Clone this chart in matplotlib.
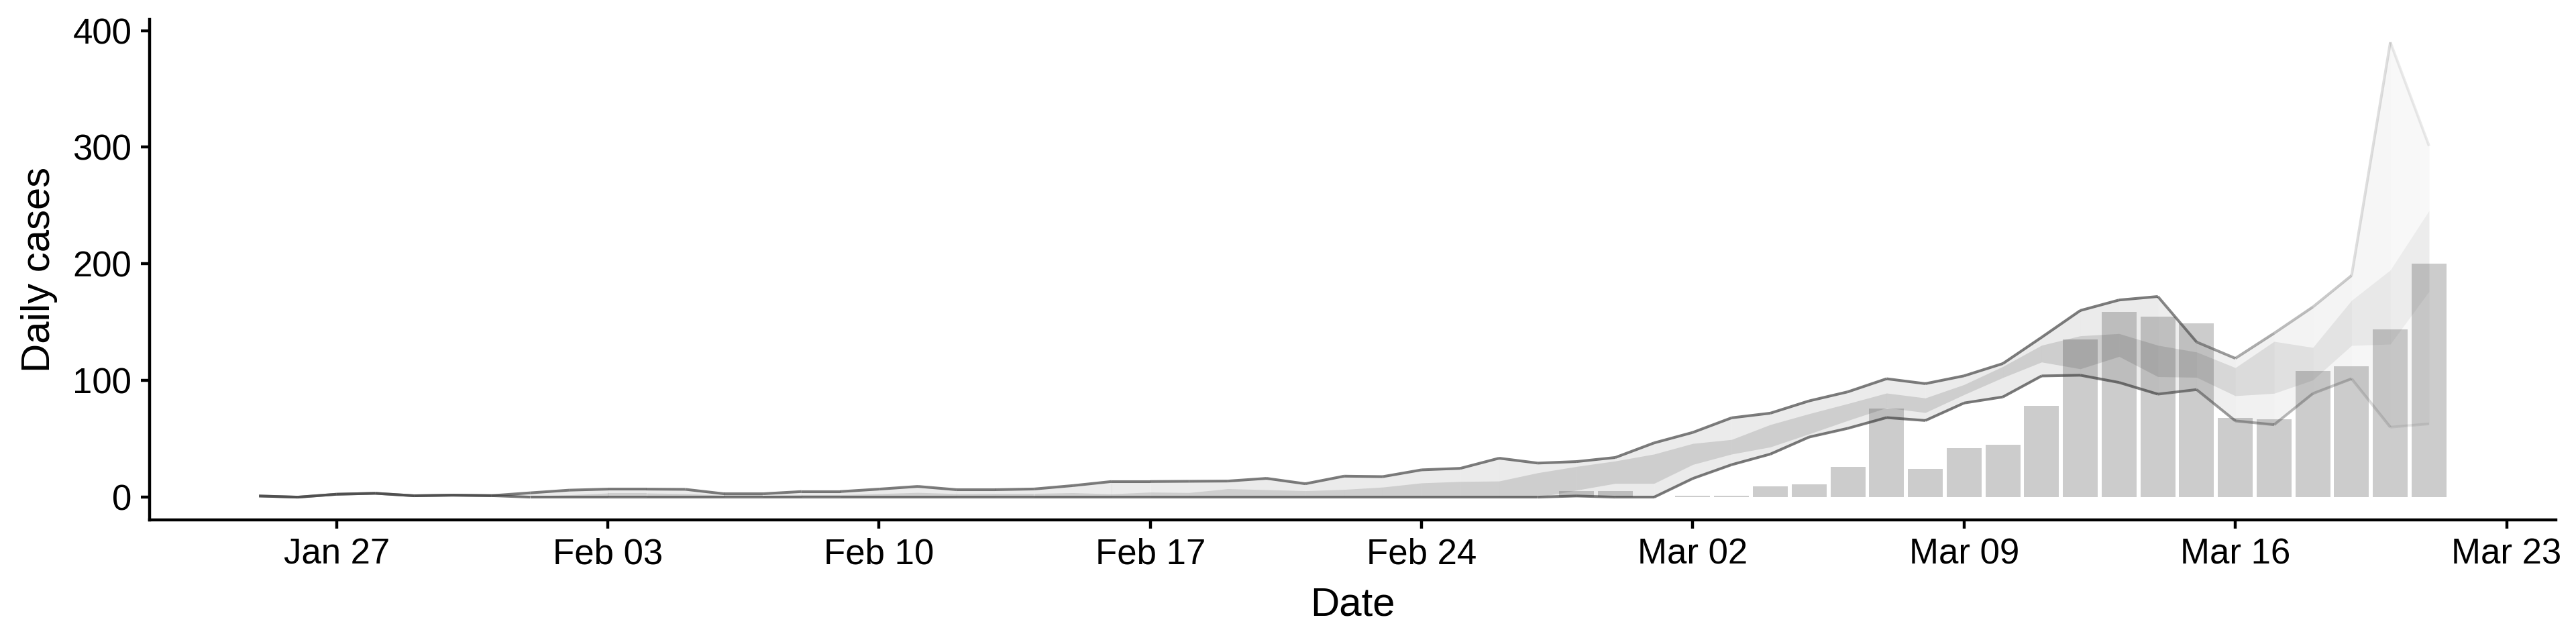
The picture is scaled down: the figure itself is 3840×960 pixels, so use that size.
import numpy as np
import matplotlib
matplotlib.use("Agg")
import matplotlib.pyplot as plt
import matplotlib.dates as mdates
from matplotlib.collections import LineCollection

plt.rcParams["font.family"] = ["Liberation Sans", "DejaVu Sans"]

# estimate dates run daily from 2020-01-25 to 2020-03-21
est_start = "2020-01-25"

# outer interval (drawn as ribbon with outline)
upper = [
    1.0, 0.0, 2.5, 3.3, 1.2, 1.7, 1.3,
    3.7, 6.0, 6.9, 6.9, 6.7, 2.9, 2.9, 4.8, 4.8, 6.9,
    9.2, 6.4, 6.4, 7.0, 9.9, 13.4, 13.4, 13.6, 13.8, 16.1,
    11.5, 18.0, 17.6, 23.4, 24.7, 33.4, 29.2, 30.5, 34.0,
    46.5, 55.5, 68.0, 72.0, 82.5, 90.3, 101.5, 97.3, 104.0, 114.5,
    137.0, 160.0, 169.0, 172.0, 133.0, 119.0, 140.5, 163.0, 190.0, 390.0, 301.0,
]
lower = [
    1.0, 0.0, 2.5, 3.3, 1.2, 1.7, 1.3,
    0, 0, 0, 0, 0, 0, 0, 0, 0, 0,
    0, 0, 0, 0, 0, 0, 0, 0, 0, 0,
    0, 0, 0, 0, 0, 0, 0, 1.0, 0,
    0.0, 16.0, 27.8, 36.9, 51.5, 59.0, 68.2, 65.7, 80.7, 85.9,
    103.9, 104.5, 98.3, 88.3, 92.2, 65.4, 62.1, 88.8, 101.5, 60.0, 62.8,
]
# inner interval
mid_upper = [
    1.0, 0.0, 2.5, 3.3, 1.2, 1.7, 1.3,
    1.0, 2.0, 3.5, 3.5, 3.0, 1.5, 1.5, 2.0, 2.0, 3.0,
    4.0, 3.0, 3.2, 3.2, 3.8, 2.8, 4.3, 3.9, 7.2, 6.4,
    5.5, 6.6, 8.6, 12.2, 13.4, 13.8, 20.9, 26.3, 31.0,
    36.9, 46.0, 49.4, 62.2, 71.5, 80.2, 89.2, 85.0, 96.5, 112.0,
    130.2, 138.3, 140.2, 130.2, 124.4, 111.0, 133.5, 128.3, 168.7, 194.7, 245.7,
]
mid_lower = [
    1.0, 0.0, 2.5, 3.3, 1.2, 1.7, 1.3,
    0, 0, 0, 0, 0, 0, 0, 0, 0, 0,
    0, 0, 0, 0, 0, 0, 0, 0, 0, 0,
    0, 0, 0, 0, 0, 0, 0, 6.0, 11.8,
    11.8, 28.0, 36.9, 43.0, 54.2, 65.7, 76.7, 72.5, 87.9, 102.5,
    115.8, 110.0, 120.6, 103.3, 102.7, 86.9, 89.0, 100.4, 130.0, 131.2, 176.4,
]
# confidence in the estimate, fades over the last week
confidence = [1.0] * 50 + [0.9, 0.75, 0.62, 0.5, 0.4, 0.25, 0.15]

# reported cases from 2020-02-28
cases_start = "2020-02-28"
cases = [5, 5, 0, 1, 1, 9, 11, 26, 76, 24, 42, 45, 78, 135, 159, 155, 149,
         68, 67, 108, 112, 144, 200]

est_dates = np.datetime64(est_start) + np.arange(len(upper))
case_dates = np.datetime64(cases_start) + np.arange(len(cases))
ex = mdates.date2num(est_dates)
cx = mdates.date2num(case_dates)

upper = np.array(upper)
lower = np.array(lower)
mid_upper = np.array(mid_upper)
mid_lower = np.array(mid_lower)
conf = np.array(confidence)

ink = (0.235, 0.235, 0.235)

fig = plt.figure(figsize=(19.2, 4.8), dpi=200)
ax = fig.add_axes([0.0581, 0.1927, 0.9341, 0.7771])

ax.bar(cx, cases, width=0.9, color="#cccccc", linewidth=0, zorder=1)

for i in range(len(ex) - 1):
    c = conf[i + 1]
    fade = 0.25 + 0.75 * c
    sl = slice(i, i + 2)
    ax.fill_between(ex[sl], lower[sl], upper[sl], color=ink, alpha=0.097 * fade,
                    linewidth=0, zorder=2)
    ax.fill_between(ex[sl], mid_lower[sl], mid_upper[sl], color=ink, alpha=0.165 * fade,
                    linewidth=0, zorder=2)

seg_colors = [(*ink, 0.68 * c) for c in conf[1:]]
for series in (upper, lower):
    pts = np.column_stack([ex, series])
    segs = np.stack([pts[:-1], pts[1:]], axis=1)
    ax.add_collection(LineCollection(segs, colors=seg_colors, linewidths=1.45,
                                     capstyle="butt", joinstyle="round", zorder=3))

span = (cx[-1] + 0.45) - ex[0]
ax.set_xlim(ex[0] - 0.05 * span, cx[-1] + 0.45 + 0.05 * span)
ymax = upper.max()
ax.set_ylim(-0.05 * ymax, 1.05 * ymax)

ax.xaxis.set_major_locator(mdates.WeekdayLocator(byweekday=mdates.MO))
ax.xaxis.set_major_formatter(mdates.DateFormatter("%b %d"))
ax.set_yticks([0, 100, 200, 300, 400])

for side in ("top", "right"):
    ax.spines[side].set_visible(False)
for side in ("left", "bottom"):
    ax.spines[side].set_linewidth(1.6)
ax.tick_params(axis="both", length=4.7, width=1.6, labelsize=19, pad=5)

ax.set_xlabel("Date", fontsize=21.6, labelpad=8)
ax.set_ylabel("Daily cases", fontsize=21.6, labelpad=8)

fig.savefig("out.png", dpi=200, facecolor="white")
